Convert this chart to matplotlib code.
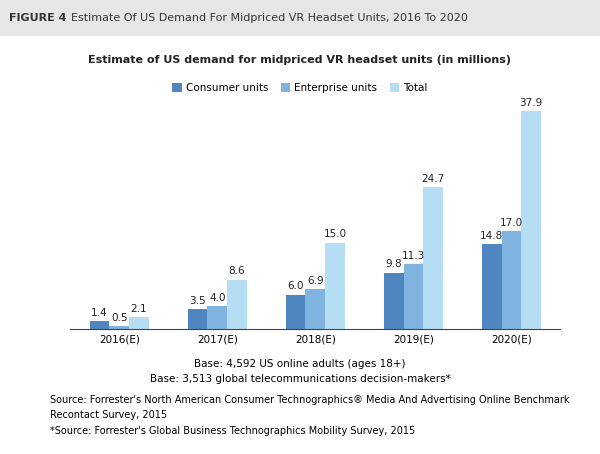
import matplotlib
matplotlib.use("Agg")
import matplotlib.pyplot as plt
import numpy as np

years = ["2016(E)", "2017(E)", "2018(E)", "2019(E)", "2020(E)"]
consumer = [1.4, 3.5, 6.0, 9.8, 14.8]
enterprise = [0.5, 4.0, 6.9, 11.3, 17.0]
total = [2.1, 8.6, 15.0, 24.7, 37.9]
series = [("Consumer units", consumer, "#4f86c0"),
          ("Enterprise units", enterprise, "#80b3df"),
          ("Total", total, "#b5def4")]

fig = plt.figure(figsize=(6, 4.54), dpi=100)
fig.patches.append(plt.Rectangle((0, 1 - 35/454), 1, 35/454, transform=fig.transFigure,
                                 color="#e6e6e6", zorder=0))
fig.text(0.015, 1 - 18/454, "FIGURE 4", fontsize=8, weight="bold", va="center", color="#333")
fig.text(0.118, 1 - 18/454, "Estimate Of US Demand For Midpriced VR Headset Units, 2016 To 2020",
         fontsize=8, va="center", color="#333")
fig.text(0.5, 1 - 60/454, "Estimate of US demand for midpriced VR headset units (in millions)",
         fontsize=8, weight="bold", ha="center", va="center", color="#222")

ax = fig.add_axes([0.117, 0.275, 0.817, 0.507])
x = np.arange(len(years))
w = 0.2
for i, (name, vals, c) in enumerate(series):
    xs = x + (i - 1) * w
    ax.bar(xs, vals, w, color=c, label=name)
    for xx, v in zip(xs, vals):
        ax.text(xx, v + 0.6, f"{v:.1f}", ha="center", va="bottom", fontsize=7.5, color="#222")
ax.set_xlim(-0.5, 4.5)
ax.set_ylim(0, 40)
ax.set_xticks(x)
ax.set_xticklabels(years, fontsize=7.5)
ax.tick_params(axis="x", length=0, pad=4)
ax.set_yticks([])
for s in ["top", "right", "left"]:
    ax.spines[s].set_visible(False)
ax.spines["bottom"].set_color("#444")
fig.legend(loc="center", bbox_to_anchor=(0.5, 1 - 88/454), ncol=3, frameon=False,
           fontsize=7.5, handlelength=0.9, handleheight=0.9, columnspacing=1.2, handletextpad=0.4)

fig.text(0.5, 1 - 364/454, "Base: 4,592 US online adults (ages 18+)", fontsize=7.5, ha="center", va="center")
fig.text(0.5, 1 - 379/454, "Base: 3,513 global telecommunications decision-makers*", fontsize=7.5, ha="center", va="center")
fig.text(0.083, 1 - 400/454, "Source: Forrester's North American Consumer Technographics\u00ae Media And Advertising Online Benchmark",
         fontsize=7.0, va="center")
fig.text(0.083, 1 - 415/454, "Recontact Survey, 2015", fontsize=7.0, va="center")
fig.text(0.083, 1 - 431/454, "*Source: Forrester's Global Business Technographics Mobility Survey, 2015", fontsize=7.0, va="center")
fig.savefig("out.png", dpi=100)
